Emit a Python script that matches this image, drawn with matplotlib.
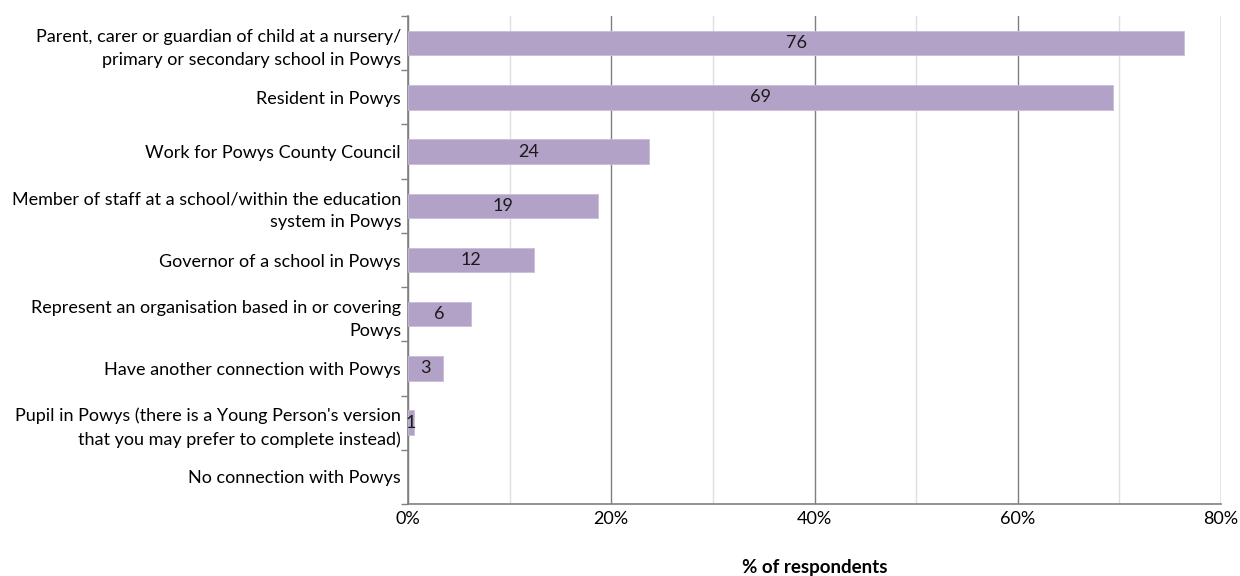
import matplotlib
matplotlib.use("Agg")
import matplotlib.pyplot as plt
from matplotlib.ticker import MultipleLocator, PercentFormatter, FixedLocator

categories = [
    "Parent, carer or guardian of child at a nursery/\nprimary or secondary school in Powys",
    "Resident in Powys",
    "Work for Powys County Council",
    "Member of staff at a school/within the education\nsystem in Powys",
    "Governor of a school in Powys",
    "Represent an organisation based in or covering\nPowys",
    "Have another connection with Powys",
    "Pupil in Powys (there is a Young Person's version\nthat you may prefer to complete instead)",
    "No connection with Powys",
]
values = [76.4, 69.4, 23.7, 18.7, 12.4, 6.2, 3.4, 0.6, 0.0]

plt.rcParams["font.family"] = ["Lato", "DejaVu Sans"]

fig = plt.figure(figsize=(12.4, 5.76), dpi=100)
ax = fig.add_axes([408 / 1240, 1 - 504 / 576, (1221 - 408) / 1240, (504 - 16) / 576])

n = len(categories)
ypos = list(range(n))
bar_color = "#b3a2c7"
for y, v in zip(ypos, values):
    if v > 0:
        ax.barh(y, v, height=0.45, color=bar_color, edgecolor="#c9bcd9", linewidth=0.6, zorder=3)
        ax.text(v / 2, y, f"{round(v):d}", ha="center", va="center", fontsize=13,
                color="#1a1a1a", zorder=4)

ax.set_ylim(n - 0.5, -0.5)
ax.set_xlim(0, 80)
ax.set_yticks(ypos)
ax.set_yticklabels(categories, fontsize=13, linespacing=1.55)
ax.yaxis.set_minor_locator(FixedLocator([i + 0.5 for i in range(-1, n)]))
ax.tick_params(axis="y", which="major", length=0, pad=5)
ax.tick_params(axis="y", which="minor", length=5, color="#808080", width=1)

ax.xaxis.set_major_locator(MultipleLocator(20))
ax.xaxis.set_minor_locator(MultipleLocator(10))
ax.xaxis.set_major_formatter(PercentFormatter(decimals=0))
ax.tick_params(axis="x", which="both", length=0, labelsize=13, pad=5)
ax.grid(axis="x", which="major", color="#7f7f7f", linewidth=1, zorder=0)
ax.grid(axis="x", which="minor", color="#e0e0e0", linewidth=1, zorder=0)

for side in ["top", "right"]:
    ax.spines[side].set_visible(False)
ax.spines["left"].set_color("#808080")
ax.spines["bottom"].set_color("#808080")
ax.spines["left"].set_linewidth(1.2)
ax.spines["bottom"].set_linewidth(1.2)

fig.text((408 + 1221) / 2 / 1240, 1 - 568 / 576, "% of respondents", ha="center", va="center",
         fontsize=13.5, fontweight="bold")

fig.savefig("out.png", dpi=100, facecolor="white")
